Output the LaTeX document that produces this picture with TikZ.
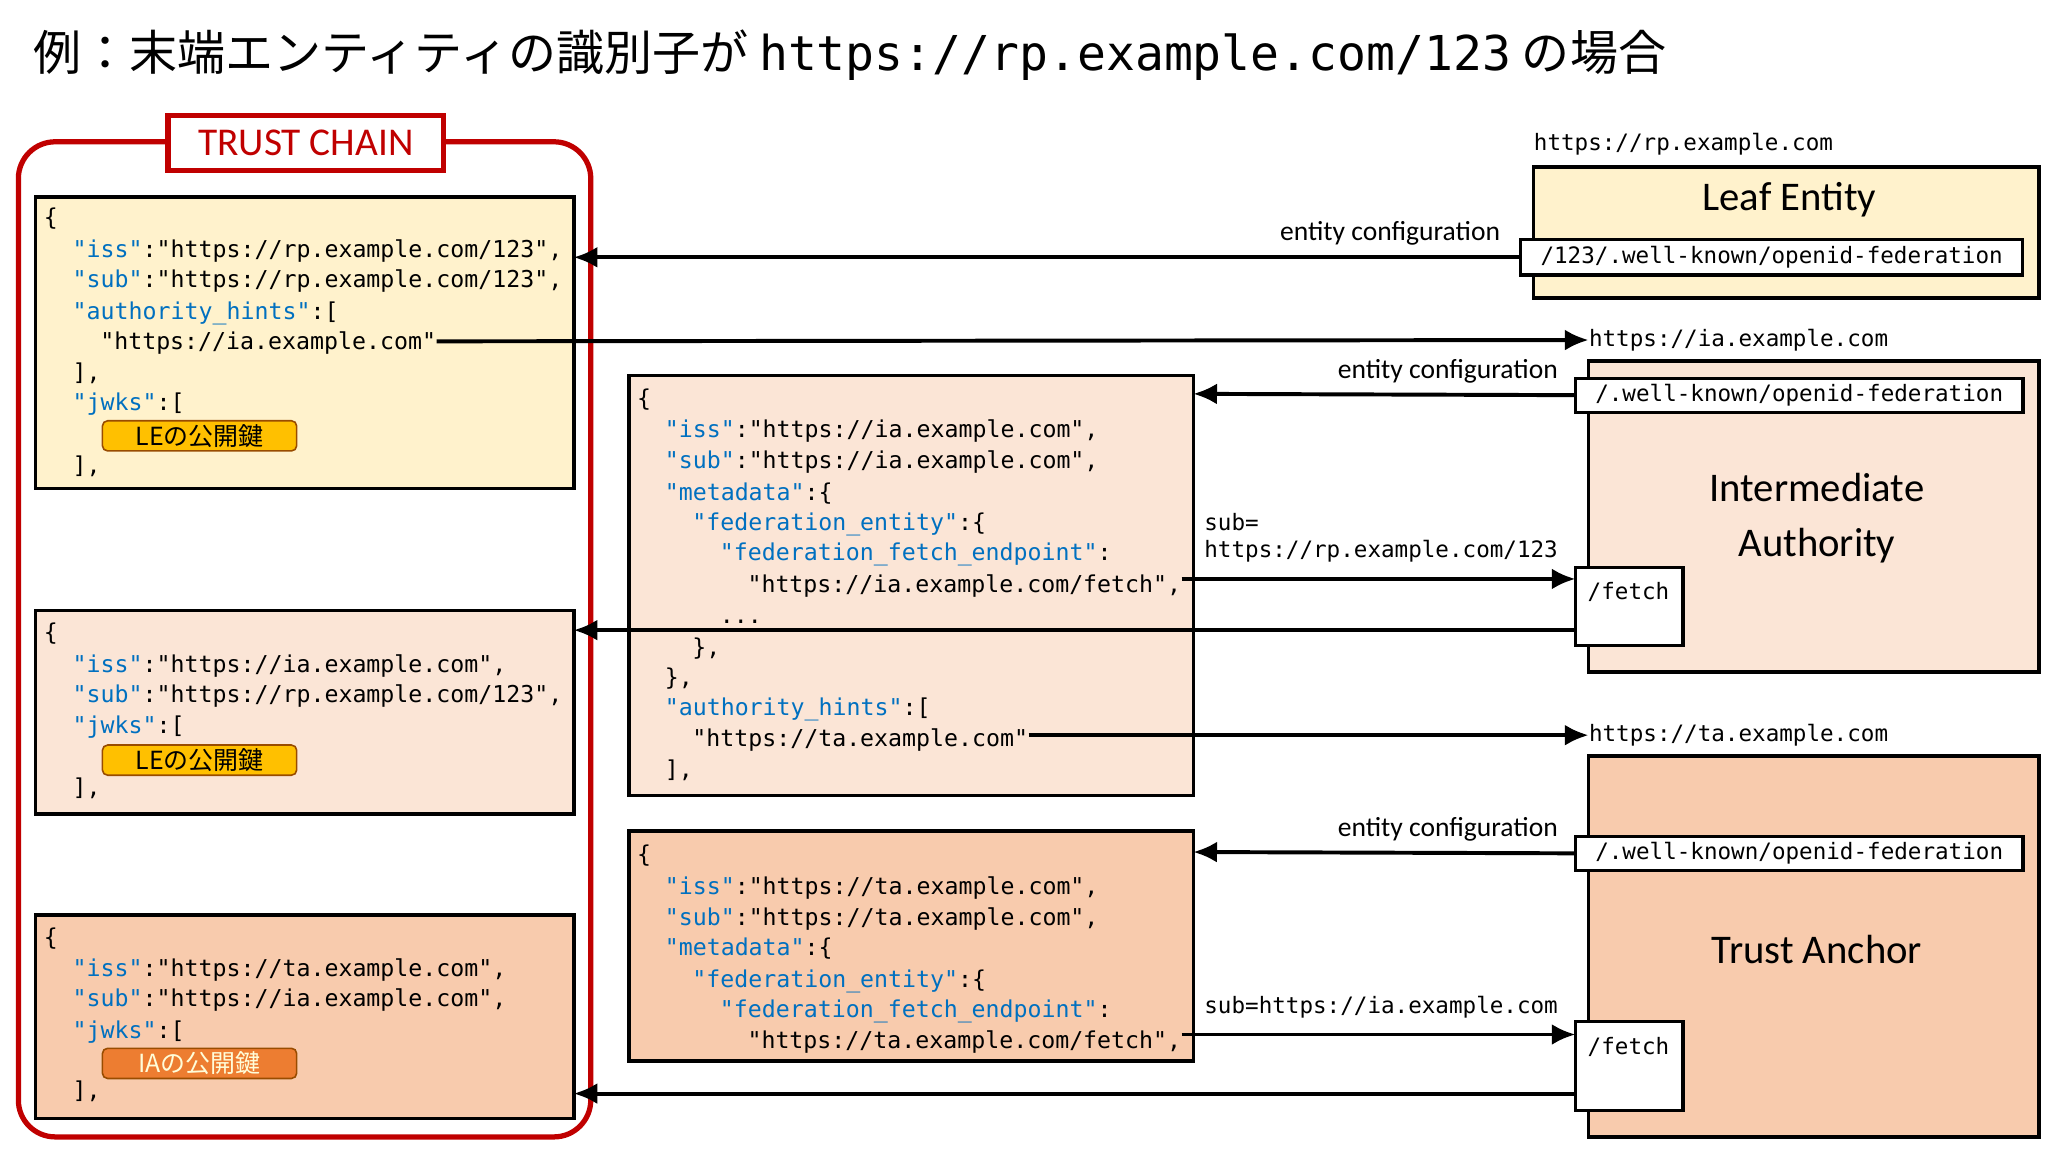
\documentclass[tikz,border=0pt]{standalone}
\usepackage{fontspec}
\setmainfont{Carlito}
\setmonofont{DejaVu Sans Mono}
\newfontfamily\jp{Noto Sans CJK JP}
\usetikzlibrary{arrows.meta}
\definecolor{cy}{HTML}{FFF2CC}
\definecolor{cp}{HTML}{FBE5D6}
\definecolor{co}{HTML}{F8CBAD}
\definecolor{kb}{HTML}{0070C0}
\definecolor{rd}{HTML}{C00000}
\definecolor{gold}{HTML}{FFC000}
\definecolor{orn}{HTML}{ED7D31}
\newcommand{\kk}[1]{\textcolor{kb}{"#1"}}
\tikzset{
 box/.style={draw=black,line width=1.4pt},
 pth/.style={draw=black,fill=white,line width=1.2pt,inner sep=2pt,font=\ttfamily\fontsize{8.6}{10}\selectfont},
 js/.style={anchor=base west,inner sep=0,font=\ttfamily\fontsize{8.85}{10}\selectfont},
 lab/.style={font=\fontsize{10.5}{12}\selectfont,inner sep=0},
 ar/.style={line width=1.5pt,-{Latex[length=9pt,width=8pt]}},
 badge/.style={draw=black!40!orange,line width=0.6pt,rounded corners=2pt,minimum width=74pt,minimum height=11.5pt,inner sep=0,font=\jp\fontsize{9.5}{10}\selectfont}
}
\begin{document}
\begin{tikzpicture}[x=0.5pt,y=-0.5pt]
\useasboundingbox[fill=white] (0,0) rectangle (1560,877.5);
\node[anchor=west,inner sep=0,font=\jp\fontsize{18.3}{20}\selectfont] (title) at (25,42) {例：末端エンティティの識別子が {\ttfamily\fontsize{18.3}{20}\selectfont https://rp.example.com/123} の場合};
% trust chain frame
\draw[rd,line width=2pt,rounded corners=14pt] (14,108) rectangle (450,866);
\node[draw=rd,line width=2pt,fill=white,text=rd,minimum width=105pt,minimum height=21pt,inner sep=0,font=\fontsize{15}{16}\selectfont] (tc) at (233,109) {TRUST CHAIN};
% left boxes
\draw[box,fill=cy] (27,150) rectangle (437,372);
\draw[box,fill=cp] (27,465) rectangle (437,620);
\draw[box,fill=co] (27,697) rectangle (437,852);
\draw[box,fill=cp] (479,286) rectangle (909,606);
\draw[box,fill=co] (479,633) rectangle (909,808);
% LE json
\node[js] at (33,172) {\{};
\node[js] at (55,196) {\kk{iss}:"https://rp.example.com/123",};
\node[js] at (55,219) {\kk{sub}:"https://rp.example.com/123",};
\node[js] at (55,243) {\kk{authority\_hints}:[};
\node[js] (leia) at (76,266) {"https://ia.example.com"};
\node[js] at (55,290) {],};
\node[js] at (55,313) {\kk{jwks}:[};
\node[badge,fill=gold] (b1) at (152,332) {LEの公開鍵};
\node[js] at (55,361) {],};
% IA statement
\node[js] at (33,488) {\{};
\node[js] at (55,512) {\kk{iss}:"https://ia.example.com",};
\node[js] at (55,535) {\kk{sub}:"https://rp.example.com/123",};
\node[js] at (55,559) {\kk{jwks}:[};
\node[badge,fill=gold] (b2) at (152,579) {LEの公開鍵};
\node[js] at (55,606) {],};
% TA statement
\node[js] at (33,720) {\{};
\node[js] at (55,744) {\kk{iss}:"https://ta.example.com",};
\node[js] at (55,767) {\kk{sub}:"https://ia.example.com",};
\node[js] at (55,791) {\kk{jwks}:[};
\node[badge,fill=orn,text=white!85!yellow] (b3) at (152,810) {IAの公開鍵};
\node[js] at (55,837) {],};
% IA EC json
\node[js] at (485,310) {\{};
\node[js] at (506,333) {\kk{iss}:"https://ia.example.com",};
\node[js] at (506,357) {\kk{sub}:"https://ia.example.com",};
\node[js] at (506,381) {\kk{metadata}:\{};
\node[js] at (527,404) {\kk{federation\_entity}:\{};
\node[js] at (548,427) {\kk{federation\_fetch\_endpoint}:};
\node[js] (iaf) at (569,451) {"https://ia.example.com/fetch",};
\node[js] at (548,475) {...};
\node[js] at (527,499) {\},};
\node[js] at (506,522) {\},};
\node[js] at (506,545) {\kk{authority\_hints}:[};
\node[js] (iata) at (527,569) {"https://ta.example.com"};
\node[js] at (506,592) {],};
% TA EC json
\node[js] at (485,657) {\{};
\node[js] at (506,681) {\kk{iss}:"https://ta.example.com",};
\node[js] at (506,705) {\kk{sub}:"https://ta.example.com",};
\node[js] at (506,728) {\kk{metadata}:\{};
\node[js] at (527,752) {\kk{federation\_entity}:\{};
\node[js] at (548,775) {\kk{federation\_fetch\_endpoint}:};
\node[js] (taf) at (569,799) {"https://ta.example.com/fetch",};
% right entities
\node[anchor=west,inner sep=0,font=\ttfamily\fontsize{8.6}{10}\selectfont] (rpu) at (1168,110) {https://rp.example.com};
\draw[box,fill=cy] (1168,127) rectangle (1553,227);
\node[font=\fontsize{15.5}{17}\selectfont] (le) at (1363,152) {Leaf Entity};
\node[pth,minimum width=191pt,minimum height=13.5pt] (lep) at (1349.5,196) {/123/.well-known/openid-federation};

\node[anchor=west,inner sep=0,font=\ttfamily\fontsize{8.6}{10}\selectfont] (iau) at (1210,259) {https://ia.example.com};
\draw[box,fill=cp] (1210,275) rectangle (1553,512);
\node[pth,minimum width=170.5pt,minimum height=13pt] (iap) at (1370.5,301) {/.well-known/openid-federation};
\node[align=center,font=\fontsize{15.5}{21}\selectfont] (ia) at (1384,395) {Intermediate\\Authority};
\draw[pth] (1200,432) rectangle (1282,492);
\node[anchor=north west,inner sep=0,font=\ttfamily\fontsize{8.6}{10}\selectfont] (iafe) at (1209,443) {/fetch};
\coordinate (iaF1) at (1200,441);
\coordinate (iaF2) at (1200,480);

\node[anchor=west,inner sep=0,font=\ttfamily\fontsize{8.6}{10}\selectfont] (tau) at (1210,560) {https://ta.example.com};
\draw[box,fill=co] (1210,576) rectangle (1553,866);
\node[pth,minimum width=170.5pt,minimum height=13pt] (tap) at (1370.5,650) {/.well-known/openid-federation};
\node[font=\fontsize{15.5}{17}\selectfont] (ta) at (1384,723) {Trust Anchor};
\draw[pth] (1200,778) rectangle (1282,846);
\node[anchor=north west,inner sep=0,font=\ttfamily\fontsize{8.6}{10}\selectfont] (tafe) at (1209,790) {/fetch};
\coordinate (taF1) at (1200,788);
\coordinate (taF2) at (1200,833);
% arrows
\draw[ar] (lep.west) -- (437,196);
\node[lab,anchor=south east] at (1143,187) {entity configuration};
\draw[ar] (leia.east |- 0,260) -- (iau.west);
\draw[ar] (iap.west) -- (909,300);
\node[lab,anchor=south east] at (1187,292) {entity configuration};
\draw[ar] (iaf.east |- 0,441) -- (iaF1);
\node[anchor=south west,align=left,inner sep=0,font=\ttfamily\fontsize{8.6}{10.5}\selectfont] at (917,429) {sub=\\https://rp.example.com/123};
\draw[ar] (iaF2) -- (437,480);
\draw[ar] (iata.east |- 0,560) -- (tau.west);
\draw[ar] (tap.west) -- (909,649);
\node[lab,anchor=south east] at (1187,641) {entity configuration};
\draw[ar] (taf.east |- 0,788) -- (taF1);
\node[anchor=south west,inner sep=0,font=\ttfamily\fontsize{8.6}{10}\selectfont] at (917,776) {sub=https://ia.example.com};
\draw[ar] (taF2) -- (437,833);
\end{tikzpicture}
\end{document}
